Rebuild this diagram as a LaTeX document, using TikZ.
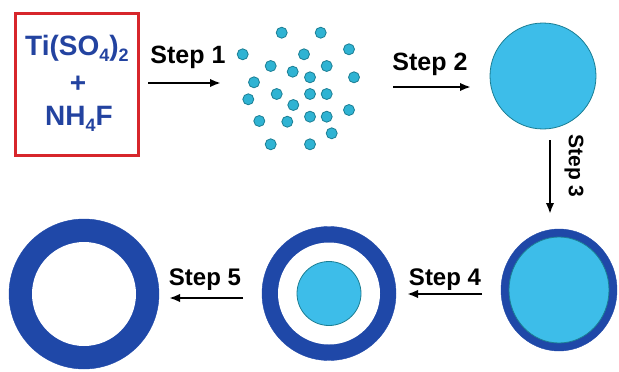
\documentclass[tikz,border=0pt]{standalone}
\usepackage{fontspec}
\setmainfont{Liberation Sans}
\usetikzlibrary{arrows.meta}
\definecolor{boxred}{HTML}{D7262B}
\definecolor{txtblue}{HTML}{2343A0}
\definecolor{dotcyan}{HTML}{2FB3D3}
\definecolor{dotedge}{HTML}{1B7E93}
\definecolor{corecyan}{HTML}{3DBDE9}
\definecolor{shellblue}{HTML}{1F48A8}
\newcommand{\chemsub}[1]{\raisebox{-0.45ex}{\fontsize{18}{18}\selectfont #1}}

\begin{document}
\begin{tikzpicture}[x=1pt, y=-1pt,
	steplabel/.style={font=\fontsize{25}{25}\selectfont\bfseries, inner sep=0pt, anchor=base},
	chemlabel/.style={font=\fontsize{28}{28}\selectfont\bfseries, text=txtblue, inner sep=0pt, anchor=base},
	steparrow/.style={line width=2.2pt, -{Latex[length=11pt, width=8.5pt]}},
	drop/.style={fill=dotcyan, draw=dotedge, line width=0.8pt},
	core/.style={fill=corecyan, draw=dotedge, line width=0.8pt}]
			%%%%% START %%%%%
			\useasboundingbox (0, 0) rectangle (619, 372);
			
			% reagents
			\draw[line width=3pt, color=boxred] (15, 13) rectangle (138, 155);
			\node[chemlabel] (ti) at (77, 55) {Ti(SO\chemsub{4})\chemsub{2}};
			\node[chemlabel] (plus) at (78, 92) {+};
			\node[chemlabel] (nh) at (79, 125) {NH\chemsub{4}F};
			
			% step 1
			\node[steplabel] (st1) at (188, 63) {Step 1};
			\coordinate (a1) at (148, 83);
			\coordinate (b1) at (221, 83);
			\draw[steparrow] (a1) -- (b1);
			
			% droplets
			\draw[drop] (281.7, 32.7) circle (5.5);
			\draw[drop] (320.7, 32.7) circle (5.5);
			\draw[drop] (242.7, 54.3) circle (5.5);
			\draw[drop] (304, 54.3) circle (5.5);
			\draw[drop] (349, 49.3) circle (5.5);
			\draw[drop] (270.7, 66) circle (5.5);
			\draw[drop] (292.7, 71.7) circle (5.5);
			\draw[drop] (326.7, 66) circle (5.5);
			\draw[drop] (310, 77.3) circle (5.5);
			\draw[drop] (354, 77.3) circle (5.5);
			\draw[drop] (254, 82.3) circle (5.5);
			\draw[drop] (276.7, 94) circle (5.5);
			\draw[drop] (310, 94) circle (5.5);
			\draw[drop] (326.7, 94) circle (5.5);
			\draw[drop] (248.3, 99.3) circle (5.5);
			\draw[drop] (293.3, 105) circle (5.5);
			\draw[drop] (349, 110) circle (5.5);
			\draw[drop] (259.3, 121) circle (5.5);
			\draw[drop] (287.3, 121.7) circle (5.5);
			\draw[drop] (310, 116.7) circle (5.5);
			\draw[drop] (326.7, 116.7) circle (5.5);
			\draw[drop] (331.7, 133.3) circle (5.5);
			\draw[drop] (270.7, 144.3) circle (5.5);
			\draw[drop] (310, 144.3) circle (5.5);
			
			% step 2
			\node[steplabel] (st2) at (430, 70) {Step 2};
			\coordinate (a2) at (393, 87);
			\coordinate (b2) at (471, 87);
			\draw[steparrow] (a2) -- (b2);
			
			\draw[core] (543, 76) circle (53);
			
			% step 3
			\node[steplabel, font=\fontsize{21}{21}\selectfont\bfseries, rotate=-90, anchor=center] (st3) at (574, 166) {Step 3};
			\coordinate (a3) at (550, 140);
			\coordinate (b3) at (550, 214);
			\draw[steparrow] (a3) -- (b3);
			
			\draw[fill=shellblue, draw=shellblue] (559, 290) ellipse (58 and 61);
			\draw[core] (559, 290) ellipse (50 and 53);
			
			% step 4
			\node[steplabel, font=\fontsize{24}{24}\selectfont\bfseries] (st4) at (445, 285) {Step 4};
			\coordinate (a4) at (482, 294);
			\coordinate (b4) at (407, 294);
			\draw[steparrow] (a4) -- (b4);
			
			\draw[fill=shellblue, draw=shellblue] (329, 293.5) circle (67);
			\draw[fill=white, draw=none] (329, 293.5) circle (51);
			\draw[core] (329, 293.5) circle (32);
			
			% step 5
			\node[steplabel, font=\fontsize{24}{24}\selectfont\bfseries] (st5) at (205, 285) {Step 5};
			\coordinate (a5) at (243, 298);
			\coordinate (b5) at (169, 298);
			\draw[steparrow] (a5) -- (b5);
			
			\draw[fill=shellblue, draw=shellblue] (84, 294) circle (75);
			\draw[fill=white, draw=none] (84, 294) circle (52);
			
			%%%%% END %%%%%
\end{tikzpicture}
\end{document}
